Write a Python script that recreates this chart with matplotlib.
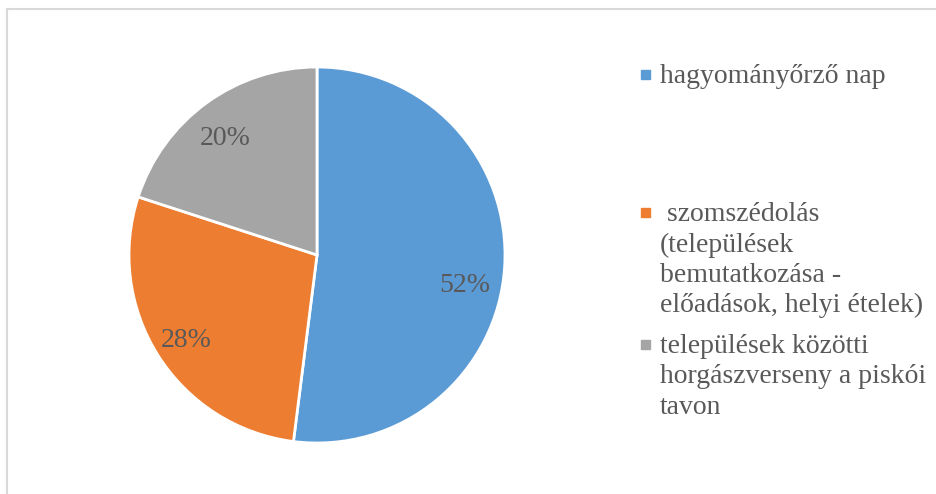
import numpy as np
import matplotlib
matplotlib.use("Agg")
import matplotlib.pyplot as plt
from matplotlib.patches import Rectangle

labels = ["hagyományőrző nap",
          " szomszédolás\n(települések\nbemutatkozása -\nelőadások, helyi ételek)",
          "települések közötti\nhorgászverseny a piskói\ntavon"]
shares = [52, 28, 20]
colors = ["#5B9BD5", "#ED7D31", "#A5A5A5"]

plt.rcParams["font.family"] = ["Liberation Serif", "DejaVu Serif"]
TXT = "#595959"

W, H = 936, 494
fig = plt.figure(figsize=(W / 100, H / 100), dpi=100)

# chart frame (cut off at right and bottom)
fig.patches.append(Rectangle((7 / W, -0.1), 1.2, (H - 9) / H + 0.1,
                             transform=fig.transFigure, fill=False,
                             edgecolor="#D9D9D9", lw=1.5))

cx, cy, r = 317, H - 255, 188
ax = fig.add_axes([(cx - r) / W, (cy - r) / H, 2 * r / W, 2 * r / H])
wedges, _, pcts = ax.pie(shares, colors=colors, startangle=90, counterclock=False,
                         autopct="%d%%", pctdistance=0.8,
                         wedgeprops=dict(edgecolor="white", linewidth=2),
                         textprops=dict(color=TXT, fontsize=20))
for t in pcts:
    x, y = t.get_position()
    t.set_position((x - 0.02, y - 0.025))
# Excel nudges the big slice's label a bit lower than its mid-angle
a = np.deg2rad(-11)
pcts[0].set_position((0.8 * np.cos(a), 0.8 * np.sin(a) - 0.01))
ax.set_xlim(-1, 1)
ax.set_ylim(-1, 1)

# legend drawn by hand to keep the wrapped layout
ys = [75, 213, 345]
for lab, col, y in zip(labels, colors, ys):
    fig.patches.append(Rectangle((641 / W, 1 - (y + 4) / H), 9 / W, 9 / H,
                                 transform=fig.transFigure, color=col))
    fig.text(660 / W, 1 - (y - 11) / H, lab, color=TXT, fontsize=20,
             va="top", ha="left", linespacing=1.28)

fig.savefig("out.png", dpi=100)
